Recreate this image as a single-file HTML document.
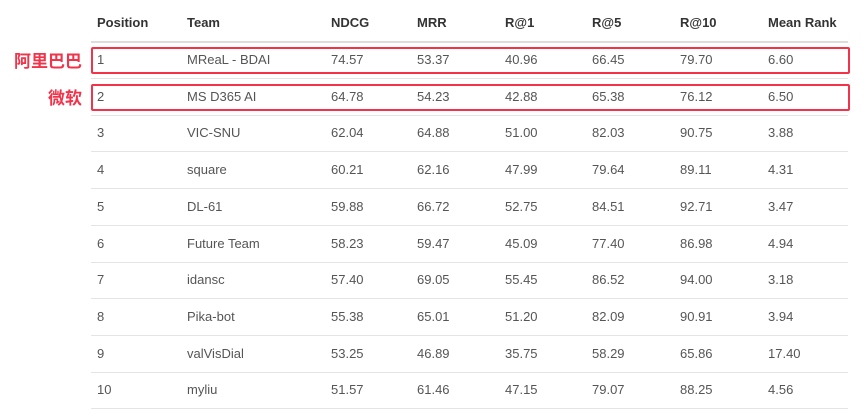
<!DOCTYPE html>
<html><head><meta charset="utf-8"><style>
body{margin:0;width:867px;height:419px;background:#fff;position:relative;overflow:hidden;font-family:"Liberation Sans","Noto Sans CJK SC",sans-serif}
.c{position:absolute;font-size:13px;color:#555;line-height:16px;white-space:nowrap}
.h{font-weight:bold;color:#333}
.ln{position:absolute;left:91px;width:757px;height:1px;background:#e4e4e4}
.box{position:absolute;left:91px;width:755px;border:2px solid #f2334a;border-radius:2px}
.lab{position:absolute;right:785px;color:#f2334a;font-weight:bold;font-size:17px;font-family:"Noto Sans CJK SC",sans-serif;line-height:20px}
</style></head><body>
<div id="t"></div>
<div class="lab" style="top:50px">阿里巴巴</div>
<div class="lab" style="top:87px">微软</div>
<script>
const xs=[97,187,331,417,505,592,680,768];
const headers=["Position","Team","NDCG","MRR","R@1","R@5","R@10","Mean Rank"];
const rows=[
["1","MReaL - BDAI","74.57","53.37","40.96","66.45","79.70","6.60"],
["2","MS D365 AI","64.78","54.23","42.88","65.38","76.12","6.50"],
["3","VIC-SNU","62.04","64.88","51.00","82.03","90.75","3.88"],
["4","square","60.21","62.16","47.99","79.64","89.11","4.31"],
["5","DL-61","59.88","66.72","52.75","84.51","92.71","3.47"],
["6","Future Team","58.23","59.47","45.09","77.40","86.98","4.94"],
["7","idansc","57.40","69.05","55.45","86.52","94.00","3.18"],
["8","Pika-bot","55.38","65.01","51.20","82.09","90.91","3.94"],
["9","valVisDial","53.25","46.89","35.75","58.29","65.86","17.40"],
["10","myliu","51.57","61.46","47.15","79.07","88.25","4.56"]];
const t=document.getElementById('t');
headers.forEach((h,i)=>{const d=document.createElement('div');d.className='c h';d.style.left=xs[i]+'px';d.style.top='15px';d.textContent=h;


t.appendChild(d);});
const hl=document.createElement('div');hl.className='ln';hl.style.top='41px';hl.style.height='2px';hl.style.background='#ddd';


t.appendChild(hl);
const pitch=36.7;
rows.forEach((r,ri)=>{const cy=60+ri*pitch;
r.forEach((v,ci)=>{const d=document.createElement('div');d.className='c';d.style.left=xs[ci]+'px';d.style.top=(cy-8)+'px';d.textContent=v;


t.appendChild(d);});
const l=document.createElement('div');l.className='ln';l.style.top=(cy+18)+'px';


t.appendChild(l);
if(ri<2){const b=document.createElement('div');b.className='box';b.style.top=(cy-13)+'px';b.style.height='23px';


t.appendChild(b);}
});
</script>
</body></html>
